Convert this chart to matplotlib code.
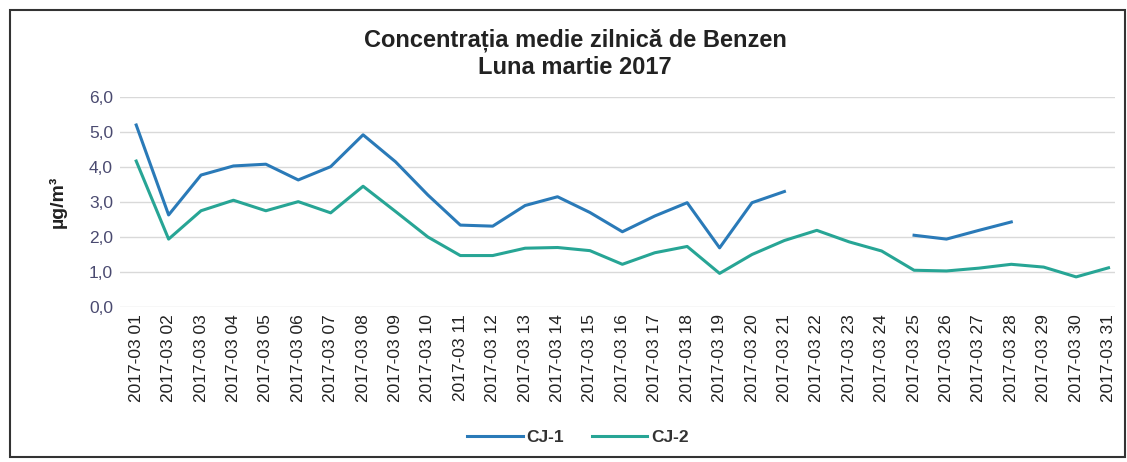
import numpy as np
import matplotlib
matplotlib.use("Agg")
import matplotlib.pyplot as plt
from matplotlib.patches import Rectangle

plt.rcParams['font.family'] = ['Liberation Sans', 'DejaVu Sans']

# daily dates and mean concentrations (ug/m3)
days = ["2017-03 %02d" % d for d in range(1, 32)]
cj1 = [5.2, 2.63, 3.77, 4.03, 4.08, 3.63, 4.01, 4.92, 4.15, 3.2,
       2.34, 2.31, 2.9, 3.15, 2.7, 2.15, 2.6, 2.98, 1.69, 2.98,
       3.3, np.nan, np.nan, np.nan, 2.05, 1.94, 2.19, 2.43, np.nan, np.nan,
       np.nan]
cj2 = [4.17, 1.94, 2.75, 3.05, 2.75, 3.01, 2.69, 3.45, 2.73, 2.0,
       1.47, 1.47, 1.68, 1.7, 1.61, 1.22, 1.55, 1.73, 0.96, 1.5,
       1.9, 2.19, 1.86, 1.6, 1.05, 1.03, 1.11, 1.22, 1.14, 0.86,
       1.12]
yticks = [0, 1, 2, 3, 4, 5, 6]

W, H = 1127, 462
fig = plt.figure(figsize=(W / 100, H / 100), dpi=100)
ax = fig.add_axes([120 / W, 1 - 307 / H, 995 / W, 210 / H])

x = np.arange(len(days))
ax.plot(x, cj1, color='#2a7ab8', lw=2.2, label='CJ-1')
ax.plot(x, cj2, color='#27a595', lw=2.2, label='CJ-2')

ax.set_xlim(-0.5, 30.2)
ax.set_ylim(0, 6)
ax.set_yticks(yticks)
ax.set_yticklabels(["%d,0" % v for v in yticks], fontsize=12.5, color='#4a4a70')
ax.set_xticks(x)
ax.set_xticklabels(days, rotation=90, fontsize=12.5, color='#222222')
ax.tick_params(length=0, pad=5)
ax.grid(axis='y', color='#d9d9d9', lw=1)
ax.set_axisbelow(True)
for s in ax.spines.values():
    s.set_visible(False)

ax.set_ylabel('µg/m³', fontsize=14, fontweight='bold', color='#222222', labelpad=16)

fig.text(575 / W, 1 - 40 / H, 'Concentrația medie zilnică de Benzen', ha='center', va='center',
         fontsize=17, fontweight='bold', color='#222222')
fig.text(575 / W, 1 - 67 / H, 'Luna martie 2017', ha='center', va='center',
         fontsize=17, fontweight='bold', color='#222222')

leg = fig.legend(loc='center', bbox_to_anchor=(578 / W, 1 - 437 / H), ncol=2, frameon=False,
                 prop={'size': 12.5, 'weight': 'bold'}, handlelength=3.2, columnspacing=1.6,
                 handletextpad=0.2)
for t in leg.get_texts():
    t.set_color('#333333')

# outer chart frame
fig.patches.append(Rectangle((10 / W, 5 / H), 1115 / W, 447 / H, transform=fig.transFigure,
                             fill=False, edgecolor='#333333', lw=1.5))

fig.savefig('out.png', dpi=100, facecolor='white')
